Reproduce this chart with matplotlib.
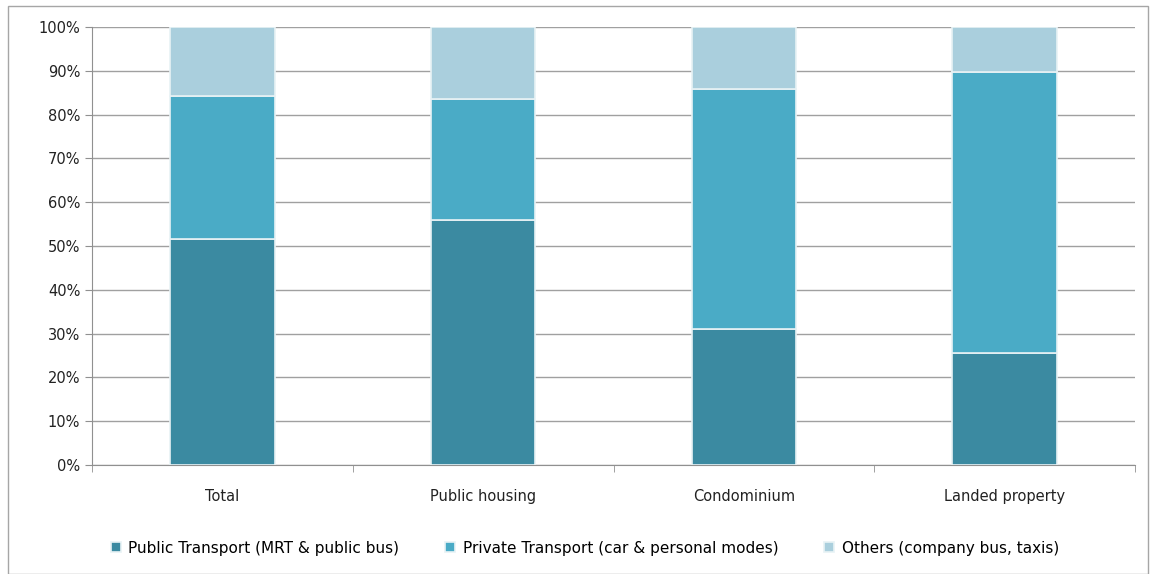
import matplotlib.pyplot as plt
import matplotlib.patches as mpatches
import numpy as np
from matplotlib.ticker import PercentFormatter, FixedLocator

categories = ['Total', 'Public housing', 'Condominium', 'Landed property']
public = [51.6, 55.9, 31.0, 25.6]
private = [32.6, 27.7, 54.8, 64.1]
others = [15.8, 16.4, 14.2, 10.3]
series_names = ['Public Transport (MRT & public bus)',
                'Private Transport (car & personal modes)',
                'Others (company bus, taxis)']
colors = ['#3B8AA1', '#4AABC6', '#AACFDD']

fig = plt.figure(figsize=(11.5, 5.74), dpi=100)
fig.patches.append(mpatches.Rectangle((8 / 1150, 0.0), 1140 / 1150, 568 / 574,
                                      transform=fig.transFigure, fill=False,
                                      edgecolor='#A6A6A6', linewidth=1.0))
ax = fig.add_axes([92 / 1150, 1 - 465 / 574, (1135 - 92) / 1150, (465 - 27) / 574])

x = np.arange(len(categories))
width = 0.4
bottom = np.zeros(len(categories))
handles = []
for vals, col, name in zip([public, private, others], colors, series_names):
    b = ax.bar(x, vals, width, bottom=bottom, color=col, edgecolor='#E8F2F5',
               linewidth=1.2, label=name, zorder=3)
    handles.append(b)
    bottom += np.array(vals)

ax.set_xlim(-0.5, len(categories) - 0.5)
ax.set_ylim(0, 100)
ax.set_yticks(np.arange(0, 101, 10))
ax.yaxis.set_major_formatter(PercentFormatter(decimals=0))
ax.grid(axis='y', color='#A0A0A0', linewidth=1.0, zorder=0)
ax.set_axisbelow(True)

ax.set_xticks(x)
ax.set_xticklabels(categories, fontsize=10.5, color='#222222')
ax.xaxis.set_minor_locator(FixedLocator(np.arange(-0.5, len(categories), 1)))
ax.tick_params(axis='x', which='major', length=0, pad=17)
ax.tick_params(axis='x', which='minor', length=5, color='#909090')
ax.tick_params(axis='y', length=5, color='#909090', labelsize=10.5, labelcolor='#222222')

for s in ['top', 'right']:
    ax.spines[s].set_visible(False)
for s in ['left', 'bottom']:
    ax.spines[s].set_color('#909090')

fig.legend(handles=handles, labels=series_names, loc='center',
           bbox_to_anchor=(585 / 1150, 1 - 548 / 574), ncol=3, frameon=False,
           fontsize=11, handlelength=0.65, handleheight=0.65, handletextpad=0.5,
           columnspacing=3.0)

fig.savefig('out.png', dpi=100)
